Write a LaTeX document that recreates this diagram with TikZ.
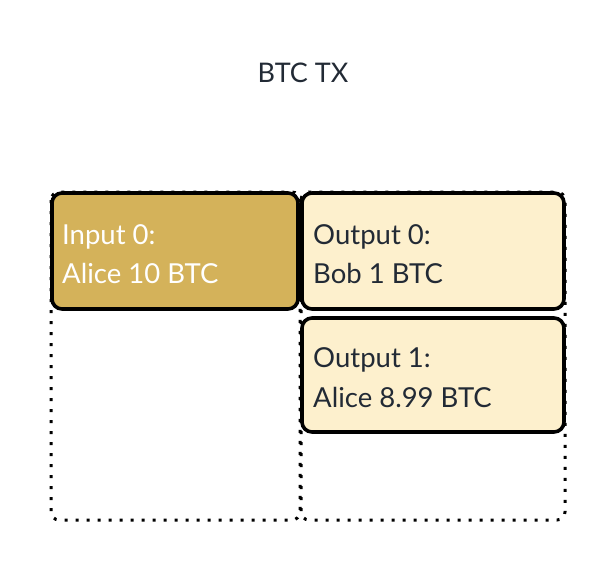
\documentclass[tikz,border=0pt]{standalone}
\usepackage{fontspec}
\setmainfont{Lato}
\definecolor{txt}{HTML}{222A35}
\definecolor{infill}{HTML}{D4B25A}
\definecolor{outfill}{HTML}{FDF0CD}
\begin{document}
\begin{tikzpicture}[x=1pt,y=-1pt,
  dotbox/.style={draw=black,line width=3pt,dash pattern=on 3pt off 8pt,rounded corners=8pt},
  txbox/.style={draw=black,line width=3.6pt,rounded corners=10pt},
  lbl/.style={anchor=base west,font=\fontsize{27.5}{32}\selectfont,inner sep=0pt}]
\useasboundingbox (0,0) rectangle (612,570);
\node[font=\fontsize{27}{32}\selectfont,text=txt,anchor=base] (title) at (303,82) {BTC TX};
\draw[dotbox] (51,192) rectangle (300,520);
\draw[dotbox] (301,192) rectangle (565,520);
\filldraw[txbox,fill=infill] (52,193) rectangle (298,309);
\filldraw[txbox,fill=outfill] (302,193) rectangle (564,309);
\filldraw[txbox,fill=outfill] (302,318) rectangle (564,432);
\node[lbl,text=white] (i0a) at (62,244) {Input 0:};
\node[lbl,text=white] (i0b) at (62,283) {Alice 10 BTC};
\node[lbl,text=txt] (o0a) at (313,244) {Output 0:};
\node[lbl,text=txt] (o0b) at (313,283) {Bob 1 BTC};
\node[lbl,text=txt] (o1a) at (313,367) {Output 1:};
\node[lbl,text=txt] (o1b) at (313,407) {Alice 8.99 BTC};
\end{tikzpicture}
\end{document}
